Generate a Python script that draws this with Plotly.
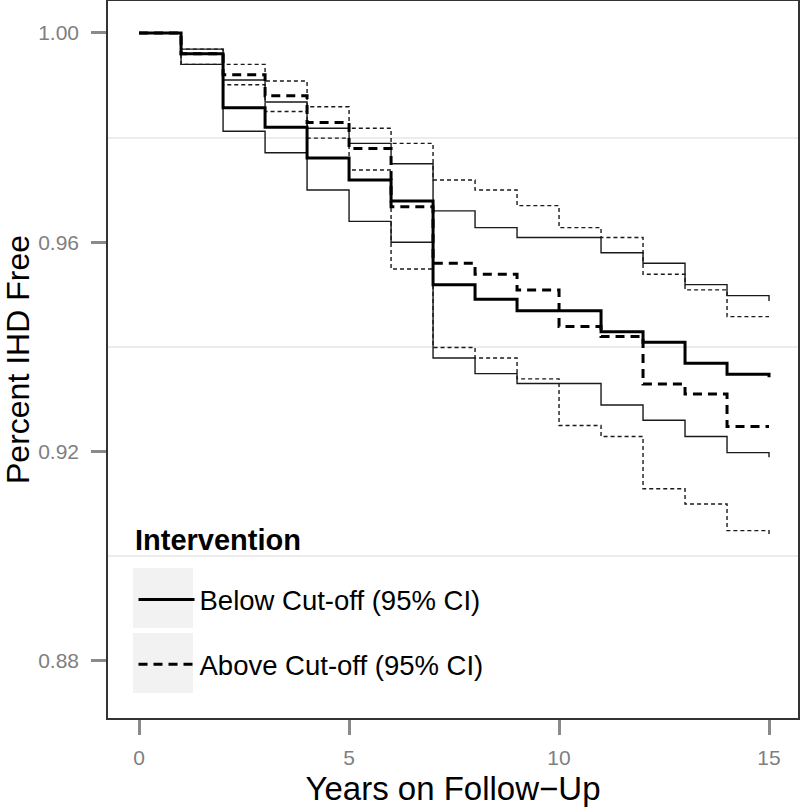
import plotly.graph_objects as go

# Kaplan-Meier style step estimates, value on [year, year+1); last value = after final drop
years = list(range(16))

below = [1.0, 0.9960, 0.9857, 0.9820, 0.9761, 0.9719, 0.9679, 0.9519, 0.9491, 0.9469,
         0.9469, 0.9429, 0.9409, 0.9369, 0.9348, 0.9342]
below_hi = [1.0, 0.9969, 0.9910, 0.9868, 0.9818, 0.9789, 0.9750, 0.9660, 0.9628, 0.9609,
            0.9609, 0.9580, 0.9560, 0.9519, 0.9498, 0.9488]
below_lo = [1.0, 0.9940, 0.9812, 0.9771, 0.9700, 0.9640, 0.9600, 0.9379, 0.9349, 0.9330,
            0.9330, 0.9289, 0.9260, 0.9229, 0.9198, 0.9189]

above = [1.0, 0.9960, 0.9920, 0.9880, 0.9829, 0.9779, 0.9668, 0.9560, 0.9539, 0.9509,
         0.9439, 0.9420, 0.9329, 0.9310, 0.9248, 0.9248]
above_hi = [1.0, 0.9969, 0.9940, 0.9908, 0.9859, 0.9818, 0.9789, 0.9719, 0.9700, 0.9670,
            0.9628, 0.9609, 0.9539, 0.9509, 0.9458, 0.9458]
above_lo = [1.0, 0.9940, 0.9901, 0.9850, 0.9799, 0.9738, 0.9549, 0.9399, 0.9379, 0.9339,
            0.9250, 0.9229, 0.9129, 0.9100, 0.9049, 0.9040]

x_ticks = [0, 5, 10, 15]
y_ticks = [0.88, 0.92, 0.96, 1.00]
y_minor = [0.90, 0.94, 0.98]

FONT = "Liberation Sans, Arial, sans-serif"
PW, PH = 690, 717  # plot area size in px

fig = go.Figure()

# confidence bands (thin)
fig.add_trace(go.Scatter(x=years, y=below_hi, mode="lines", line_shape="hv",
                         line=dict(color="#1a1a1a", width=1.4), showlegend=False, hoverinfo="skip"))
fig.add_trace(go.Scatter(x=years, y=below_lo, mode="lines", line_shape="hv",
                         line=dict(color="#1a1a1a", width=1.4), showlegend=False, hoverinfo="skip"))
fig.add_trace(go.Scatter(x=years, y=above_hi, mode="lines", line_shape="hv",
                         line=dict(color="#1a1a1a", width=1.4, dash="4px,3px"), showlegend=False, hoverinfo="skip"))
fig.add_trace(go.Scatter(x=years, y=above_lo, mode="lines", line_shape="hv",
                         line=dict(color="#1a1a1a", width=1.4, dash="4px,3px"), showlegend=False, hoverinfo="skip"))

# main estimates
fig.add_trace(go.Scatter(x=years, y=below, mode="lines", line_shape="hv", name="Below Cut-off (95% CI)",
                         legendgroup="below", line=dict(color="black", width=3)))
fig.add_trace(go.Scatter(x=years, y=above, mode="lines", line_shape="hv", name="Above Cut-off (95% CI)",
                         legendgroup="above", line=dict(color="black", width=3, dash="9px,6px")))

# grey legend key backgrounds (ggplot style)
fig.add_shape(type="rect", xref="paper", yref="paper", x0=25/PW, x1=85/PW,
              y0=(718-628)/PH, y1=(718-568)/PH, fillcolor="#f2f2f2", line_width=0, layer="below")
fig.add_shape(type="rect", xref="paper", yref="paper", x0=25/PW, x1=85/PW,
              y0=(718-693)/PH, y1=(718-633)/PH, fillcolor="#f2f2f2", line_width=0, layer="below")

fig.add_annotation(text="<b>Intervention</b>", xref="paper", yref="paper",
                   x=25/PW, y=(718-540)/PH, xanchor="left", yanchor="middle",
                   showarrow=False, font=dict(size=29, color="black"))

fig.update_layout(
    width=800, height=807,
    margin=dict(l=108, r=2, t=1, b=89),
    plot_bgcolor="white", paper_bgcolor="white",
    font=dict(family=FONT, color="black"),
    legend=dict(
        font=dict(size=27.5, color="black"),
        x=25.5/PW, y=(718-632)/PH, xanchor="left", yanchor="middle",
        bgcolor="rgba(0,0,0,0)", itemwidth=56, tracegroupgap=26,
    ),
    xaxis=dict(
        range=[-0.74, 15.69], tickvals=x_ticks, showgrid=False, zeroline=False, automargin=False,
        showline=True, linecolor="#333333", linewidth=1.5, mirror=True,
        ticks="outside", ticklen=15, tickwidth=3, tickcolor="#8a8a8a", ticklabelstandoff=5,
        tickfont=dict(size=21, color="#7f7f7f"),
        title=dict(text="Years on Follow\u2212Up", font=dict(size=33, color="black"), standoff=12),
    ),
    yaxis=dict(
        range=[0.8691, 1.0061], tickvals=y_ticks, tickformat=".2f", showgrid=False, zeroline=False,
        automargin=False,
        showline=True, linecolor="#333333", linewidth=1.5, mirror=True,
        ticks="outside", ticklen=15, tickwidth=3, tickcolor="#8a8a8a", ticklabelstandoff=8,
        tickfont=dict(size=21, color="#7f7f7f"),
        minor=dict(tickvals=y_minor, showgrid=True, gridcolor="#ececec", gridwidth=1.5, ticks=""),
        title=dict(text="Percent IHD Free", font=dict(size=32, color="black"), standoff=2),
    ),
)

# page body has a default 8px margin; drop it so the figure sits at the window corner
fig.write_html("out.html", config={"displayModeBar": False},
               post_script="document.body.style.margin='0px';")
